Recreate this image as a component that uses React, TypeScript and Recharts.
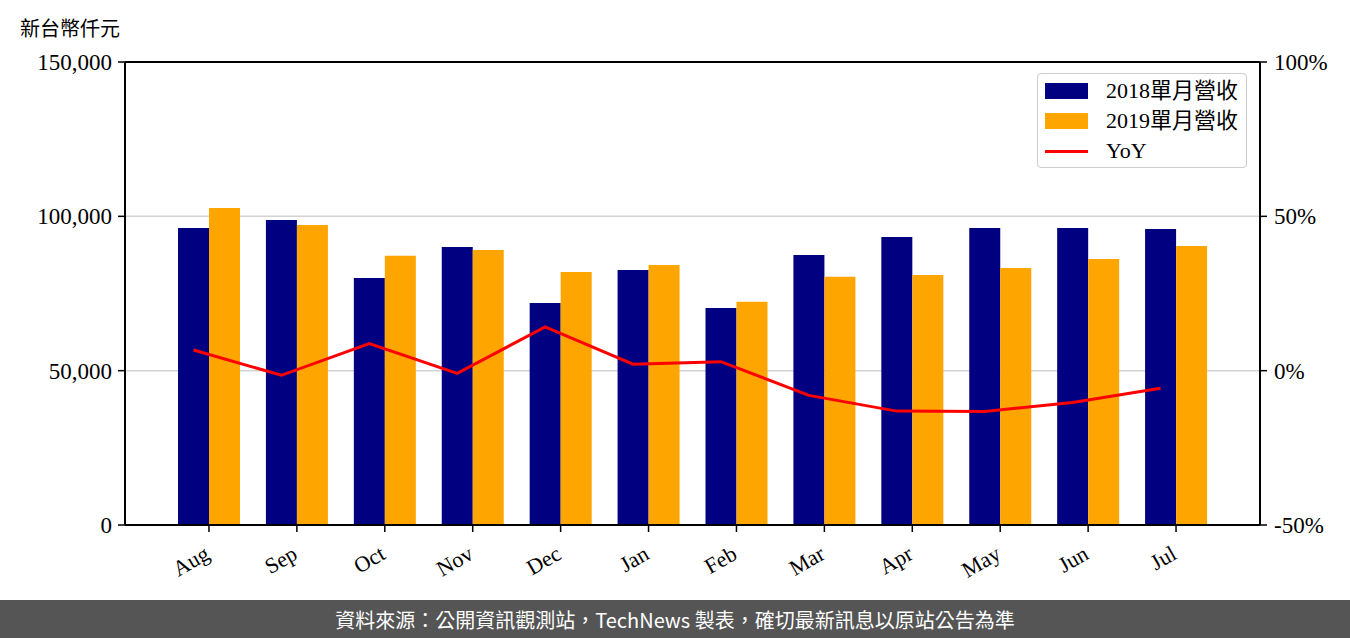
import { ComposedChart, Bar, Line, XAxis, YAxis, CartesianGrid, ReferenceLine } from 'recharts'

const months = ['Aug', 'Sep', 'Oct', 'Nov', 'Dec', 'Jan', 'Feb', 'Mar', 'Apr', 'May', 'Jun', 'Jul']
const rev2018 = [96200, 98800, 80000, 90100, 71900, 82600, 70300, 87500, 93300, 96200, 96200, 95900]
const rev2019 = [102700, 97200, 87200, 89100, 82000, 84200, 72300, 80400, 81000, 83300, 86200, 90400]
const yoy = [6.7, -1.5, 8.8, -0.9, 14.2, 2.1, 2.9, -8.0, -13.1, -13.2, -10.3, -5.7]

const leftTicks = [0, 50000, 100000, 150000]
const rightTicks = [-50, 0, 50, 100]

const data = months.map((m, i) => ({ month: m, a: rev2018[i], b: rev2019[i], yoy: yoy[i] }))

const SERIF = '"Liberation Serif", "Noto Sans CJK TC", serif'
const TICK = { fill: '#000', fontSize: 23, fontFamily: SERIF }
const AXIS = { stroke: '#000', strokeWidth: 2 }

const MonthTick = (props: any) => {
  const { x, y, payload } = props
  return (
    <g transform={`translate(${x + 2},${y + 24}) rotate(-30)`}>
      <text x={0} y={0} textAnchor="end" fill="#000" fontSize={22} fontFamily={SERIF}>
        {payload.value}
      </text>
    </g>
  )
}

const legendRows = [
  { label: '2018單月營收', color: '#000080', kind: 'bar' },
  { label: '2019單月營收', color: '#FFA500', kind: 'bar' },
  { label: 'YoY', color: '#FF0000', kind: 'line' },
]

const LegendBox = () => (
  <div
    style={{
      position: 'absolute',
      left: 1037,
      top: 73,
      width: 210,
      height: 95,
      border: '1.5px solid #cccccc',
      borderRadius: 4,
      background: 'rgba(255,255,255,0.85)',
      padding: '2px 0',
      boxSizing: 'border-box',
    }}
  >
    {legendRows.map(r => (
      <div key={r.label} style={{ display: 'flex', alignItems: 'center', height: 30 }}>
        <div style={{ width: 43, marginLeft: 7, display: 'flex', alignItems: 'center' }}>
          <div style={{ width: 43, height: r.kind === 'bar' ? 16 : 3, background: r.color }} />
        </div>
        <span style={{ marginLeft: 18, fontSize: 22, fontFamily: SERIF, color: '#000', lineHeight: '30px' }}>
          {r.label}
        </span>
      </div>
    ))}
  </div>
)

export default function App() {
  return (
    <div style={{ position: 'absolute', left: 0, top: 0, width: 1350, height: 638, background: '#fff' }}>
      <div
        style={{
          position: 'absolute',
          left: 20,
          top: 14,
          fontSize: 20,
          fontFamily: '"Noto Sans CJK TC", serif',
          color: '#000',
          lineHeight: '28px',
        }}
      >
        新台幣仟元
      </div>
      <ComposedChart
        width={1350}
        height={600}
        data={data}
        margin={{ top: 62, right: 0, bottom: 15, left: 15 }}
        barGap={0}
      >
        <CartesianGrid yAxisId="left" vertical={false} stroke="#d3d3d3" strokeWidth={1.5} />
        <XAxis
          dataKey="month"
          padding={{ left: 40, right: 40 }}
          tick={<MonthTick />}
          interval={0}
          tickSize={7}
          axisLine={AXIS}
          tickLine={{ stroke: '#000', strokeWidth: 1.5 }}
          height={60}
        />
        <XAxis xAxisId="line" dataKey="month" hide padding={{ left: 24.5, right: 55.5 }} />
        <YAxis
          yAxisId="left"
          domain={[0, 150000]}
          ticks={leftTicks}
          tickFormatter={(v: number) => v.toLocaleString('en-US')}
          tick={TICK}
          width={110}
          tickSize={7}
          tickMargin={6}
          axisLine={AXIS}
          tickLine={{ stroke: '#000', strokeWidth: 1.5 }}
        />
        <YAxis
          yAxisId="right"
          orientation="right"
          domain={[-50, 100]}
          ticks={rightTicks}
          tickFormatter={(v: number) => `${v}%`}
          tick={TICK}
          width={90}
          tickSize={7}
          tickMargin={7}
          axisLine={AXIS}
          tickLine={{ stroke: '#000', strokeWidth: 1.5 }}
        />
        <ReferenceLine yAxisId="left" y={150000} stroke="#000" strokeWidth={2} />
        <Bar yAxisId="left" dataKey="a" name="2018單月營收" fill="#000080" barSize={31} isAnimationActive={false} />
        <Bar yAxisId="left" dataKey="b" name="2019單月營收" fill="#FFA500" barSize={31} isAnimationActive={false} />
        <Line
          xAxisId="line"
          yAxisId="right"
          dataKey="yoy"
          name="YoY"
          stroke="#FF0000"
          strokeWidth={3}
          dot={false}
          type="linear"
          isAnimationActive={false}
        />
      </ComposedChart>
      <LegendBox />
      <div
        style={{
          position: 'absolute',
          left: 0,
          top: 600,
          width: 1350,
          height: 38,
          background: '#555555',
          color: '#fff',
          fontSize: 20,
          fontFamily: '"Noto Sans CJK TC", sans-serif',
          display: 'flex',
          alignItems: 'center',
          justifyContent: 'center',
        }}
      >
        資料來源：公開資訊觀測站，TechNews 製表，確切最新訊息以原站公告為準
      </div>
    </div>
  )
}
